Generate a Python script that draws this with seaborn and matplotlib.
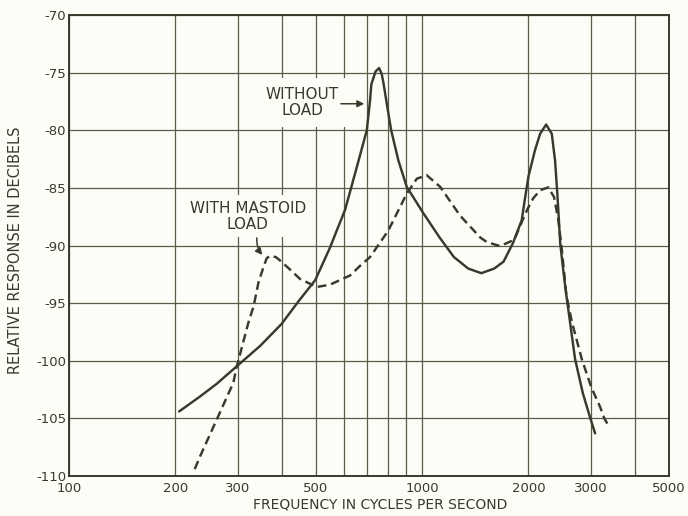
import matplotlib
matplotlib.use("Agg")
import matplotlib.pyplot as plt
from matplotlib.ticker import FixedLocator, NullFormatter
import pandas as pd
import seaborn as sns

# response: frequency (c/s) vs relative response (dB)
no_load_freq = [205, 235, 262, 298, 348, 400, 445, 498, 548, 573, 605, 653,
                697, 712, 718, 738, 755, 768, 777, 794, 817, 856, 904, 1008,
                1120, 1230, 1350, 1470, 1600, 1700, 1807, 1914, 1953, 2000,
                2088, 2158, 2244, 2328, 2378, 2414, 2460, 2510, 2560, 2710,
                2850, 2980, 3088]
no_load_db = [-104.4, -103.1, -102.0, -100.5, -98.7, -96.8, -94.9, -93.0,
              -90.2, -88.7, -86.9, -83.2, -80.0, -77.4, -76.0, -74.9, -74.6,
              -75.1, -75.9, -77.7, -80.0, -82.6, -84.9, -87.2, -89.3, -91.0,
              -92.0, -92.4, -92.0, -91.4, -89.8, -87.8, -86.0, -84.0, -81.7,
              -80.3, -79.5, -80.3, -82.6, -85.5, -89.8, -92.2, -94.3, -99.85,
              -102.8, -104.8, -106.3]

mastoid_freq = [227, 235, 262, 292, 298, 322, 333, 344, 356, 363, 371, 385,
                396, 423, 451, 503, 548, 585, 625, 665, 712, 802, 904, 966,
                1030, 1124, 1280, 1460, 1524, 1662, 1823, 1925, 1990, 2063,
                2158, 2277, 2363, 2430, 2487, 2560, 2653, 2831, 3012, 3190,
                3280, 3365]
mastoid_db = [-109.4, -108.3, -105.1, -101.9, -100.6, -96.7, -95.3, -93.2,
              -91.8, -91.1, -90.9, -91.0, -91.3, -92.1, -92.9, -93.6, -93.4,
              -93.0, -92.6, -91.8, -91.0, -88.7, -85.5, -84.2, -83.9, -84.9,
              -87.4, -89.3, -89.7, -90.05, -89.5, -87.8, -86.8, -85.9, -85.2,
              -84.95, -85.8, -87.8, -90.4, -94.3, -96.6, -99.85, -102.3,
              -104.0, -105.0, -105.6]

major_ticks = [100, 200, 300, 500, 1000, 2000, 3000, 5000]
major_labels = ["100", "200", "300", "500", "1000", "2000", "3000", "5000"]
minor_ticks = [400, 600, 700, 800, 900, 4000]
y_ticks = [-110, -105, -100, -95, -90, -85, -80, -75, -70]

INK = "#363b2b"
GRID = "#5a5c47"
PAPER = "#fdfdf8"

sns.set_style("white")
plt.rcParams["font.family"] = ["DejaVu Sans"]

fig = plt.figure(figsize=(6.88, 5.16), dpi=100, facecolor=PAPER)
ax = fig.add_axes([0.1003, 0.0775, 0.8721, 0.8934], facecolor=PAPER)

df_a = pd.DataFrame({"freq": no_load_freq, "db": no_load_db})
df_b = pd.DataFrame({"freq": mastoid_freq, "db": mastoid_db})

sns.lineplot(data=df_a, x="freq", y="db", ax=ax, sort=False, estimator=None,
             color=INK, linewidth=1.75, zorder=3)
sns.lineplot(data=df_b, x="freq", y="db", ax=ax, sort=False, estimator=None,
             color=INK, linewidth=1.75, linestyle=(0, (3.6, 2.0)), zorder=3)

ax.set_xscale("log")
ax.set_xlim(100, 5000)
ax.set_ylim(-110, -70)
ax.xaxis.set_major_locator(FixedLocator(major_ticks))
ax.set_xticklabels(major_labels)
ax.xaxis.set_minor_locator(FixedLocator(minor_ticks))
ax.xaxis.set_minor_formatter(NullFormatter())
ax.set_yticks(y_ticks)
ax.set_yticklabels([str(v) for v in y_ticks])

ax.grid(True, which="both", color=GRID, linewidth=0.9)
ax.set_axisbelow(True)
ax.tick_params(axis="both", which="both", length=0, colors=INK,
               labelsize=9.5)
ax.tick_params(axis="x", pad=4)
ax.tick_params(axis="y", pad=2)
for s in ax.spines.values():
    s.set_color(INK)
    s.set_linewidth(1.4)

ax.set_xlabel("FREQUENCY IN CYCLES PER SECOND", fontsize=10, color=INK)
ax.set_ylabel("RELATIVE RESPONSE IN DECIBELS", fontsize=10.5, color=INK)
ax.xaxis.set_label_coords(0.518, -0.046)
ax.yaxis.set_label_coords(-0.077, 0.49)

# annotations
box = dict(boxstyle="square,pad=0.6", facecolor=PAPER, edgecolor="none")
ax.text(457, -77.6, "WITHOUT\nLOAD", ha="center", va="center", fontsize=11,
        color=INK, linespacing=1.1, bbox=box, zorder=2)
ax.annotate("", xy=(698, -77.7), xytext=(578, -77.7),
            arrowprops=dict(arrowstyle="-|>", color=INK, lw=1.1,
                            mutation_scale=10), zorder=4)

ax.text(321, -87.45, "WITH MASTOID\nLOAD", ha="center", va="center",
        fontsize=11, color=INK, linespacing=1.1,
        bbox=dict(boxstyle="square,pad=0.35", facecolor=PAPER,
                  edgecolor="none"), zorder=2)
ax.annotate("", xy=(357, -91.0), xytext=(341, -89.1),
            arrowprops=dict(arrowstyle="-|>", color=INK, lw=1.1,
                            mutation_scale=10,
                            connectionstyle="arc3,rad=0.25"), zorder=4)

fig.savefig("out.png", dpi=100, facecolor=PAPER)
